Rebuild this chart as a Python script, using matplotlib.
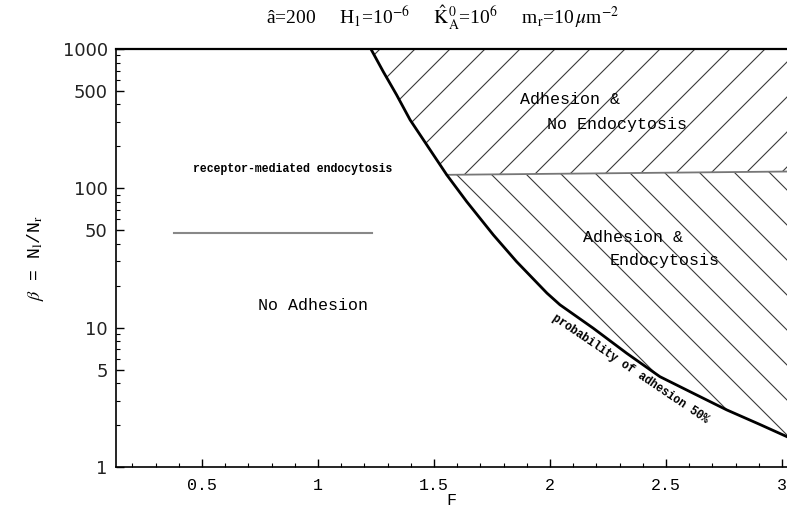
import numpy as np
import matplotlib
matplotlib.use("Agg")
import matplotlib.pyplot as plt
from matplotlib.collections import LineCollection
from matplotlib.transforms import IdentityTransform

plt.rcParams["mathtext.fontset"] = "stix"

# 50% adhesion probability boundary
F_curve = [1.228, 1.281, 1.339, 1.397, 1.469, 1.555, 1.641, 1.756, 1.856, 1.987,
           2.043, 2.187, 2.331, 2.474, 2.618, 2.762, 2.905, 3.022]
beta_curve = [1000, 689, 468, 310, 205, 125, 80.3, 46.3, 29.8, 17.7,
              14.6, 9.9, 6.55, 4.45, 3.38, 2.57, 2.02, 1.65]
i_split = 5  # where the endocytosis boundary meets the curve

# receptor-mediated endocytosis boundary
F_endo = [1.555, 3.022]
beta_endo = [125, 132]

F_min, F_max = 0.129, 3.022
beta_min, beta_max = 1, 1000

xticks = [0.5, 1, 1.5, 2, 2.5, 3]
xtick_labels = ["0.5", "1", "1.5", "2", "2.5", "3"]
yticks = [1, 5, 10, 50, 100, 500, 1000]
ytick_labels = ["1", "5", "10", "50", "100", "500", "1000"]

mono = "Liberation Mono"

fig = plt.figure(figsize=(7.87, 5.13), dpi=100)
ax = fig.add_axes([116 / 787, 46 / 513, 1 - 116 / 787, 418 / 513])
ax.set_yscale("log")
ax.set_xlim(F_min, F_max)
ax.set_ylim(beta_min, beta_max)

# regions
top_x = F_curve[:i_split + 1] + [F_endo[1], F_max]
top_y = beta_curve[:i_split + 1] + [beta_endo[1], beta_max]
bot_x = F_curve[i_split:] + [F_endo[1], F_endo[0]]
bot_y = beta_curve[i_split:] + [beta_endo[1], beta_endo[0]]
top_patch = ax.fill(top_x, top_y, facecolor="none", edgecolor="none")[0]
bot_patch = ax.fill(bot_x, bot_y, facecolor="none", edgecolor="none")[0]

# hand-spaced hatching (matplotlib's built-in hatch is too dense)
bb = ax.bbox
x0, x1 = bb.x0, bb.x1
step = 35
segs = []
for c in np.arange(-126 - 40 * step, 1000, step):  # y = x + c
    segs.append([(x0 - 600, x0 - 600 + c), (x1 + 600, x1 + 600 + c)])
lc = LineCollection(segs, colors="#3a3a3a", linewidths=0.8, transform=IdentityTransform())
ax.add_collection(lc)
lc.set_clip_path(top_patch)
segs = []
for c in np.arange(900 - 40 * step, 900 + 40 * step, step):  # y = -x + c
    segs.append([(x0 - 600, c - x0 + 600), (x1 + 600, c - x1 - 600)])
lc2 = LineCollection(segs, colors="#3a3a3a", linewidths=0.8, transform=IdentityTransform())
ax.add_collection(lc2)
lc2.set_clip_path(bot_patch)

ax.plot(F_curve, beta_curve, color="black", lw=2.0, zorder=5)
ax.plot(F_endo, beta_endo, color="#777777", lw=1.3, zorder=4)

# legend-like sample line
ax.plot([0.087, 0.381], [0.560, 0.560], color="#888888", lw=1.5, transform=ax.transAxes)
ax.text(0.263, 0.712, "receptor-mediated endocytosis", transform=ax.transAxes,
        ha="center", va="center", fontsize=8.3, family=mono, fontweight="bold")

ax.text(313, 513 - 305, "No Adhesion", transform=IdentityTransform(), ha="center", va="center",
        fontsize=12, family=mono)
ax.text(520, 513 - 100, "Adhesion &", transform=IdentityTransform(), ha="left", va="center",
        fontsize=12, family=mono)
ax.text(547, 513 - 124, "No Endocytosis", transform=IdentityTransform(), ha="left", va="center",
        fontsize=12, family=mono)
ax.text(583, 513 - 237, "Adhesion &", transform=IdentityTransform(), ha="left", va="center",
        fontsize=12, family=mono)
ax.text(610, 513 - 260, "Endocytosis", transform=IdentityTransform(), ha="left", va="center",
        fontsize=12, family=mono)
ax.text(630, 513 - 369, "probability of adhesion 50%", transform=IdentityTransform(),
        ha="center", va="center", rotation=-34, rotation_mode="anchor",
        fontsize=8.3, family=mono, fontweight="bold")

ax.set_xticks(xticks)
ax.set_xticklabels(xtick_labels, family=mono, fontsize=12)
ax.set_xticks(np.arange(0.2, 3.01, 0.1), minor=True)
ax.set_yticks(yticks)
ax.set_yticklabels(ytick_labels, fontsize=13, color="#222222")
ax.tick_params(which="both", direction="in", top=False, right=False)
ax.tick_params(which="major", length=6, width=1)
ax.tick_params(which="minor", length=3, width=0.8)
ax.tick_params(axis="x", pad=8)
ax.tick_params(axis="y", pad=6)

ax.spines["right"].set_visible(False)
for s in ["left", "bottom"]:
    ax.spines[s].set_linewidth(1.2)
ax.spines["top"].set_linewidth(1.6)

ax.set_xlabel("F", family=mono, fontsize=12, labelpad=0)
ax.set_ylabel(r"$\beta$ = N$_{\rm l}$/N$_{\rm r}$", family=mono, fontsize=13, labelpad=12)

fig.text(443 / 787, 1 - 18 / 513,
         r"â=200     H$_1$=10$^{-6}$     $\hat{\rm K}_{\rm A}^{0}$=10$^{6}$     m$_{\rm r}$=10$\,\mu$m$^{-2}$",
         ha="center", va="center", fontsize=14, family="Liberation Serif")

fig.savefig("out.png", dpi=100)
